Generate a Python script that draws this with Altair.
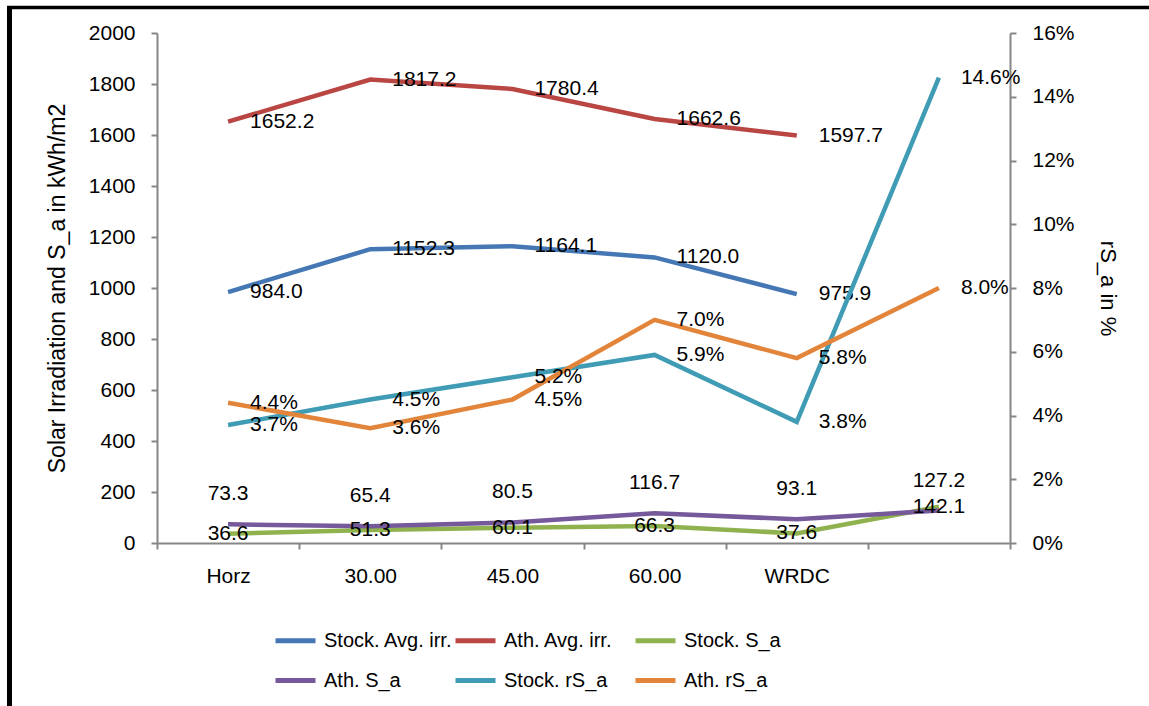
import altair as alt
import pandas as pd

# Categories along the x axis (the last slot carries no label)
categories = ["Horz", "30.00", "45.00", "60.00", "WRDC", " "]

# Left axis series (kWh/m2)
stock_avg_irr = [984.0, 1152.3, 1164.1, 1120.0, 975.9]
ath_avg_irr = [1652.2, 1817.2, 1780.4, 1662.6, 1597.7]
stock_s_a = [36.6, 51.3, 60.1, 66.3, 37.6, 142.1]
ath_s_a = [73.3, 65.4, 80.5, 116.7, 93.1, 127.2]

# Right axis series (fractions, shown as %)
stock_rs_a = [0.037, 0.045, 0.052, 0.059, 0.038, 0.146]
ath_rs_a = [0.044, 0.036, 0.045, 0.070, 0.058, 0.080]

series_names = ["Stock. Avg. irr.", "Ath. Avg. irr.", "Stock. S_a",
                "Ath. S_a", "Stock. rS_a", "Ath. rS_a"]
series_colors = ["#4677B5", "#B94643", "#8FB24E", "#75599B", "#409CB5", "#E2853B"]


def long_table(pairs):
    rows = []
    for name, values in pairs:
        for cat, v in zip(categories, values):
            rows.append({"cat": cat, "series": name, "value": v})
    return pd.DataFrame(rows)


left_df = long_table([
    ("Stock. Avg. irr.", stock_avg_irr),
    ("Ath. Avg. irr.", ath_avg_irr),
    ("Stock. S_a", stock_s_a),
    ("Ath. S_a", ath_s_a),
])
right_df = long_table([
    ("Stock. rS_a", stock_rs_a),
    ("Ath. rS_a", ath_rs_a),
])

FONT = "Liberation Sans"
GRAY = "#868686"

x_enc = alt.X(
    "cat:N",
    bandPosition=0.5,
    scale=alt.Scale(type="band", domain=categories, paddingInner=0, paddingOuter=0),
    axis=alt.Axis(
        title=None, tickBand="extent", tickSize=6, labelPadding=16,
        labelFontSize=21, labelFont=FONT, labelColor="black", labelAngle=0,
        domainColor=GRAY, tickColor=GRAY, domainWidth=2, tickWidth=2,
    ),
)

color_enc = alt.Color(
    "series:N",
    scale=alt.Scale(domain=series_names, range=series_colors),
    legend=alt.Legend(
        title=None, orient="none", legendX=116, legendY=585, columns=3,
        direction="horizontal", gridAlign="all", columnPadding=-8, rowPadding=7,
        symbolType="stroke", symbolSize=1600, symbolStrokeWidth=5,
        labelFontSize=20, labelFont=FONT, labelColor="black", labelOffset=6,
    ),
)

y_left = alt.Y(
    "value:Q",
    scale=alt.Scale(domain=[0, 2000], nice=False),
    axis=alt.Axis(
        title="Solar Irradiation and S_a in kWh/m2", values=list(range(0, 2001, 200)),
        format="d",
        grid=False, tickSize=6, labelPadding=16, labelFontSize=21, labelFont=FONT,
        labelColor="black", domainColor=GRAY, tickColor=GRAY, domainWidth=2, tickWidth=2,
        titleFont=FONT, titleFontSize=23, titleFontWeight="normal", titleColor="black",
        titleX=-100, titleBaseline="middle",
    ),
)

y_right = alt.Y(
    "value:Q",
    scale=alt.Scale(domain=[0, 0.16], nice=False),
    axis=alt.Axis(
        orient="right", title="rS_a in %", format=".0%",
        values=[0, 0.02, 0.04, 0.06, 0.08, 0.10, 0.12, 0.14, 0.16],
        grid=False, tickSize=6, labelPadding=16, labelFontSize=21, labelFont=FONT,
        labelColor="black", domainColor=GRAY, tickColor=GRAY, domainWidth=2, tickWidth=2,
        titleFont=FONT, titleFontSize=22, titleFontWeight="normal", titleColor="black",
        titleX=97, titleBaseline="middle",
    ),
)

txt = dict(font=FONT, fontSize=21, color="black")

left_lines = alt.Chart(left_df).mark_line(strokeWidth=4.5).encode(
    x=x_enc, y=y_left, color=color_enc, detail="series:N"
)
left_right_labels = alt.Chart(left_df).transform_filter(
    alt.FieldOneOfPredicate(field="series", oneOf=["Stock. Avg. irr.", "Ath. Avg. irr."])
).mark_text(align="left", baseline="middle", dx=22, **txt).encode(
    x=x_enc, y=y_left, text=alt.Text("value:Q", format=".1f")
)
left_center_labels = alt.Chart(left_df).transform_filter(
    alt.datum.series == "Stock. S_a"
).mark_text(align="center", baseline="middle", **txt).encode(
    x=x_enc, y=y_left, text=alt.Text("value:Q", format=".1f")
)
left_above_labels = alt.Chart(left_df).transform_filter(
    alt.datum.series == "Ath. S_a"
).mark_text(align="center", baseline="middle", dy=-30, **txt).encode(
    x=x_enc, y=y_left, text=alt.Text("value:Q", format=".1f")
)

# Black frame on the top and left edges of the figure
frame_df = pd.DataFrame({"k": [0]})
frame_top = alt.Chart(frame_df).mark_rule(color="black", strokeWidth=3.5).encode(
    x=alt.value(-150), x2=alt.value(1000), y=alt.value(-25.5)
)
frame_left = alt.Chart(frame_df).mark_rule(color="black", strokeWidth=5).encode(
    x=alt.value(-147.5), y=alt.value(-27), y2=alt.value(690)
)

left = alt.layer(left_lines, left_right_labels, left_center_labels, left_above_labels,
                 frame_top, frame_left)

right_lines = alt.Chart(right_df).mark_line(strokeWidth=4.5).encode(
    x=x_enc, y=y_right, color=color_enc, detail="series:N"
)
right_labels = alt.Chart(right_df).mark_text(
    align="left", baseline="middle", dx=22, **txt
).encode(x=x_enc, y=y_right, text=alt.Text("value:Q", format=".1%"))

right = alt.layer(right_lines, right_labels)

chart = alt.layer(left, right).resolve_scale(y="independent").properties(
    width=853, height=510,
    autosize=alt.AutoSizeParams(type="none"),
    padding={"left": 157, "top": 33, "right": 139, "bottom": 163},
    background="white",
).configure_view(stroke=None)

chart.save("out.html", embed_options={"renderer": "svg", "actions": False})
